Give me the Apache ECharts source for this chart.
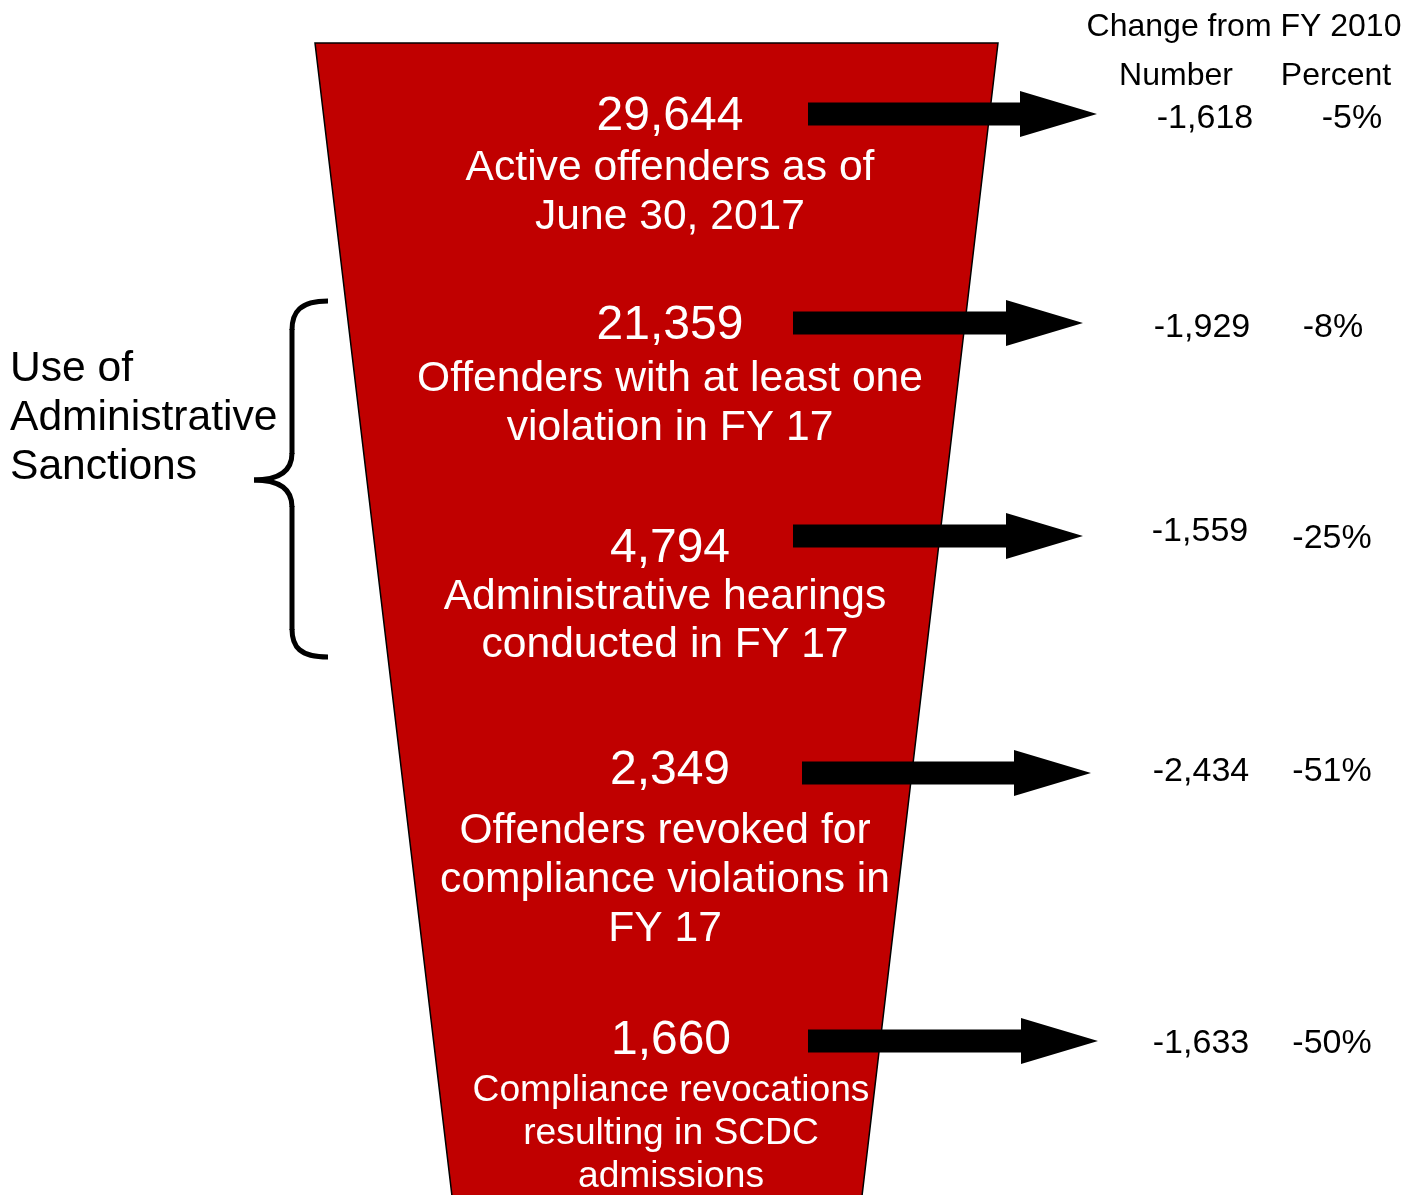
<!DOCTYPE html>
<html>
<head>
<meta charset="utf-8">
<script src="https://cdn.jsdelivr.net/npm/echarts@6/dist/echarts.min.js"></script>
<style>
  html, body { margin: 0; padding: 0; background: #fff; }
  #chart { width: 1419px; height: 1195px; }
</style>
</head>
<body>
<div id="chart"></div>
<script>
// Funnel stages
const stageCounts = [29644, 21359, 4794, 2349, 1660];
const stageLabels = [
    ['Active offenders as of', 'June 30, 2017'],
    ['Offenders with at least one', 'violation in FY 17'],
    ['Administrative hearings', 'conducted in FY 17'],
    ['Offenders revoked for', 'compliance violations in', 'FY 17'],
    ['Compliance revocations', 'resulting in SCDC', 'admissions']
];
// Change from FY 2010
const changeNumbers = [-1618, -1929, -1559, -2434, -1633];
const changePercents = [-5, -8, -25, -51, -50];
const headerTitle = 'Change from FY 2010';
const headerCols = ['Number', 'Percent'];
const bracketLabel = ['Use of', 'Administrative', 'Sanctions'];

const FONT = 'Arial, "Liberation Sans", sans-serif';
const DY = 3; // baseline nudge

// layout (pixel positions for each row)
const rowLayout = [
    { numY: 114, numX: 670, textY: 165, lineH: 49, fs: 42.6, textX: 670, arrowX: 808, tipX: 1097, arrowY: 114, chgY: 117, pctY: 117, chgX: 1205, pctX: 1352 },
    { numY: 323, numX: 670, textY: 376, lineH: 49, fs: 42.6, textX: 670, arrowX: 793, tipX: 1083, arrowY: 323, chgY: 326, pctY: 326, chgX: 1202, pctX: 1333 },
    { numY: 546, numX: 670, textY: 594, lineH: 48, fs: 42.6, textX: 665, arrowX: 793, tipX: 1083, arrowY: 536, chgY: 530, pctY: 537, chgX: 1200, pctX: 1332 },
    { numY: 768, numX: 670, textY: 828, lineH: 49, fs: 42.6, textX: 665, arrowX: 802, tipX: 1091, arrowY: 773, chgY: 770, pctY: 770, chgX: 1201, pctX: 1332 },
    { numY: 1038, numX: 671, textY: 1088, lineH: 43, fs: 37.2, textX: 671, arrowX: 808, tipX: 1098, arrowY: 1041, chgY: 1042, pctY: 1042, chgX: 1201, pctX: 1332 }
];

function fmt(n) {
    return n.toLocaleString('en-US');
}

function text(x, y, str, size, color, align) {
    return {
        type: 'text',
        x: x, y: y + DY,
        style: {
            text: str,
            font: size + 'px ' + FONT,
            fill: color,
            align: align || 'center',
            verticalAlign: 'middle'
        },
        z: 10
    };
}

function arrow(x0, tip, cy) {
    const headLen = 77, shaftH = 11.5, headH = 23;
    const hx = tip - headLen;
    return {
        type: 'polygon',
        shape: {
            points: [
                [x0, cy - shaftH], [hx, cy - shaftH], [hx, cy - headH], [tip, cy],
                [hx, cy + headH], [hx, cy + shaftH], [x0, cy + shaftH]
            ]
        },
        style: { fill: '#000' },
        z: 5
    };
}

const elements = [];

// funnel body
elements.push({
    type: 'polygon',
    shape: { points: [[315, 43], [998, 43], [862, 1196], [452, 1196]] },
    style: { fill: '#C00000', stroke: '#000', lineWidth: 1.5 },
    z: 1
});

stageCounts.forEach((v, i) => {
    const L = rowLayout[i];
    elements.push(text(L.numX, L.numY, fmt(v), 48, '#fff'));
    stageLabels[i].forEach((line, j) => {
        elements.push(text(L.textX, L.textY + j * L.lineH, line, L.fs, '#fff'));
    });
    elements.push(arrow(L.arrowX, L.tipX, L.arrowY));
    elements.push(text(L.chgX, L.chgY - 1, fmt(changeNumbers[i]), 34, '#000'));
    elements.push(text(L.pctX, L.pctY - 1, changePercents[i] + '%', 34, '#000'));
});

// header
elements.push(text(1244, 24, headerTitle, 32, '#000'));
elements.push(text(1176, 73, headerCols[0], 32, '#000'));
elements.push(text(1336, 73, headerCols[1], 32, '#000'));

// bracket label
bracketLabel.forEach((line, j) => {
    elements.push(text(10, 366 + j * 49, line, 42.6, '#000', 'left'));
});

// curly brace
const braceStyle = { stroke: '#000', lineWidth: 5, fill: null };
elements.push(
    { type: 'bezierCurve', shape: { x1: 328, y1: 301, cpx1: 300, cpy1: 301, cpx2: 292, cpy2: 312, x2: 292, y2: 330 }, style: braceStyle },
    { type: 'line', shape: { x1: 292, y1: 329, x2: 292, y2: 454 }, style: braceStyle },
    { type: 'bezierCurve', shape: { x1: 292, y1: 453, cpx1: 292, cpy1: 472, cpx2: 278, cpy2: 480, x2: 254, y2: 480 }, style: braceStyle },
    { type: 'bezierCurve', shape: { x1: 254, y1: 480, cpx1: 278, cpy1: 480, cpx2: 292, cpy2: 488, x2: 292, y2: 507 }, style: braceStyle },
    { type: 'line', shape: { x1: 292, y1: 506, x2: 292, y2: 630 }, style: braceStyle },
    { type: 'bezierCurve', shape: { x1: 292, y1: 629, cpx1: 292, cpy1: 647, cpx2: 300, cpy2: 657, x2: 328, y2: 657 }, style: braceStyle }
);

const chart = echarts.init(document.getElementById('chart'));
chart.setOption({
    backgroundColor: '#fff',
    animation: false,
    graphic: { elements: elements }
});

window.addEventListener('resize', () => chart.resize());
</script>
</body>
</html>
